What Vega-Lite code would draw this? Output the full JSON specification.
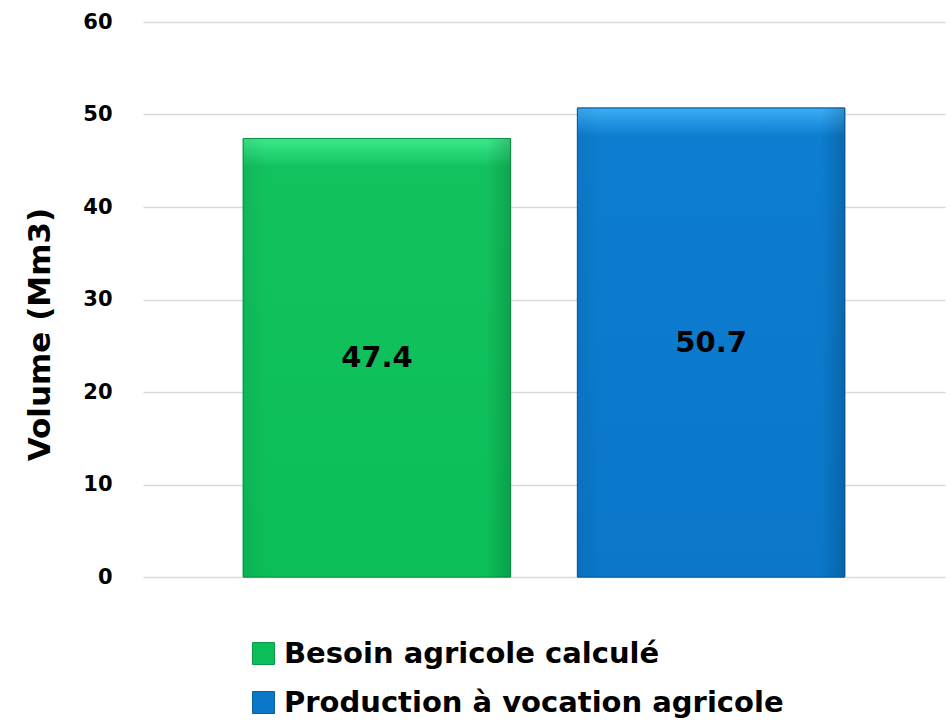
{
  "$schema": "https://vega.github.io/schema/vega-lite/v6.json",
  "autosize": {"type": "none"},
  "width": 802,
  "height": 555,
  "padding": {"left": 143, "top": 22, "right": 6, "bottom": 147},
  "background": "white",
  "config": {"view": {"stroke": null}, "font": "DejaVu Sans"},
  "data": {"values": [
    {"serie": "Besoin agricole calculé", "value": 47.4},
    {"serie": "Production à vocation agricole", "value": 50.7}
  ]},
  "encoding": {
    "x": {"field": "serie", "type": "nominal", "sort": null, "axis": null,
          "scale": {"paddingInner": 0.2, "paddingOuter": 0.3}}
  },
  "layer": [
    {
      "mark": {"type": "bar", "strokeWidth": 1},
      "encoding": {
        "y": {"field": "value", "type": "quantitative",
              "scale": {"domain": [0, 60]},
              "axis": {"values": [0, 10, 20, 30, 40, 50, 60], "title": "Volume (Mm3)",
                       "ticks": false, "domain": false, "gridColor": "#d9d9d9", "gridWidth": 1.5,
                       "labelFontSize": 21, "labelFontWeight": "bold", "labelColor": "black",
                       "labelPadding": 31, "titleFontSize": 31, "titleFontWeight": "bold",
                       "titleColor": "black", "titleX": -103, "titleY": 312, "titleBaseline": "middle", "titleAnchor": "middle", "titleAlign": "center"}},
        "fill": {"field": "serie", "type": "nominal", "sort": null,
                 "scale": {"range": ["#0BBE58", "#0A77C9"]},
                 "legend": {"title": null, "orient": "none", "legendX": 106, "legendY": 617,
                            "direction": "vertical", "symbolType": "square", "symbolSize": 484,
                            "symbolStrokeWidth": 1, "labelFontSize": 29, "labelFontWeight": "bold",
                            "labelColor": "black", "labelOffset": 6, "rowPadding": 19, "labelLimit": 800}},
        "stroke": {"field": "serie", "type": "nominal", "sort": null,
                   "scale": {"range": ["#0a9a47", "#085fa2"]}, "legend": null}
      }
    },
    {
      "transform": [{"filter": "datum.value < 49"}],
      "mark": {"type": "bar", "stroke": "#0a9a47", "strokeWidth": 1,
               "color": {"gradient": "linear", "x1": 0, "y1": 0, "x2": 0, "y2": 1,
                         "stops": [{"offset": 0, "color": "#3ce88c"}, {"offset": 0.065, "color": "#12c25e"}, {"offset": 1, "color": "#0BBE58"}]}},
      "encoding": {"y": {"field": "value", "type": "quantitative"}}
    },
    {
      "transform": [{"filter": "datum.value > 49"}],
      "mark": {"type": "bar", "stroke": "#085fa2", "strokeWidth": 1,
               "color": {"gradient": "linear", "x1": 0, "y1": 0, "x2": 0, "y2": 1,
                         "stops": [{"offset": 0, "color": "#3aaef5"}, {"offset": 0.06, "color": "#0d7dd0"}, {"offset": 1, "color": "#0A77C9"}]}},
      "encoding": {"y": {"field": "value", "type": "quantitative"}}
    },
    {
      "mark": {"type": "bar",
               "color": {"gradient": "linear", "x1": 0, "y1": 0, "x2": 1, "y2": 0,
                         "stops": [{"offset": 0, "color": "rgba(0,0,0,0.06)"}, {"offset": 0.09, "color": "rgba(0,0,0,0)"}, {"offset": 0.91, "color": "rgba(0,0,0,0)"}, {"offset": 1, "color": "rgba(0,0,0,0.16)"}]}},
      "encoding": {"y": {"field": "value", "type": "quantitative"}}
    },
    {
      "transform": [{"calculate": "datum.value / 2", "as": "mid"}],
      "mark": {"type": "text", "fontSize": 29, "fontWeight": "bold", "color": "black", "baseline": "middle"},
      "encoding": {
        "y": {"field": "mid", "type": "quantitative"},
        "text": {"field": "value", "type": "quantitative", "format": ".1f"}
      }
    }
  ]
}
